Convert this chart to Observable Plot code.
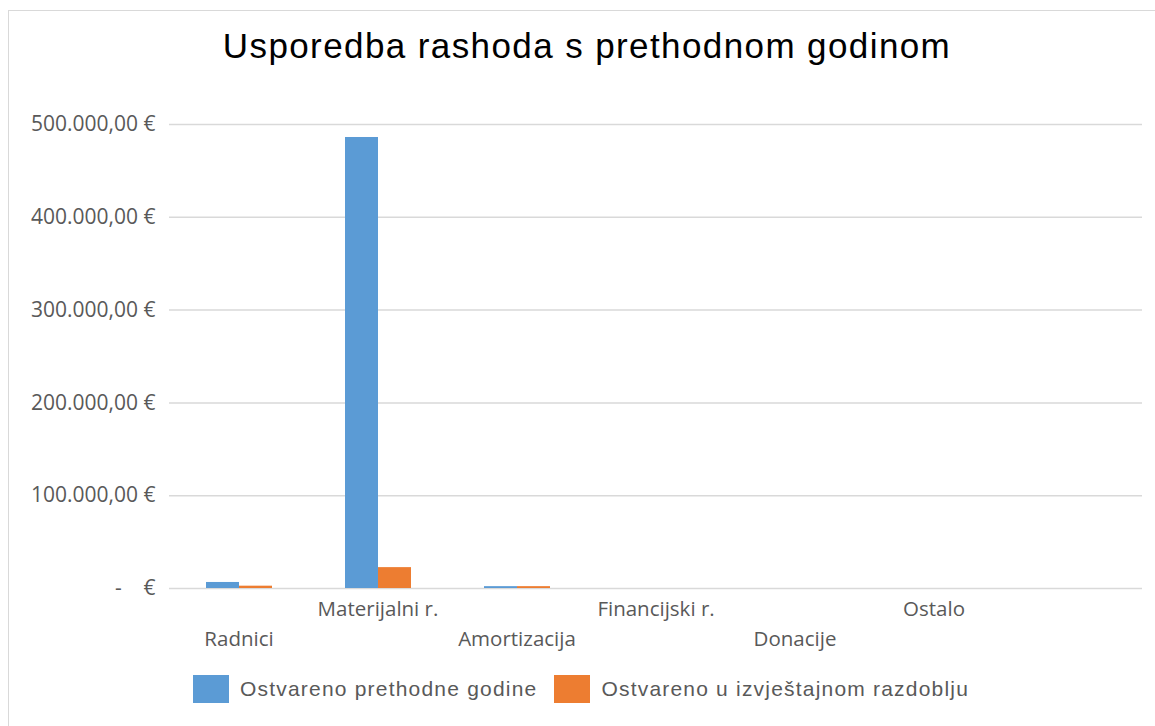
<!DOCTYPE html>
<html>
<head>
<meta charset="utf-8">
<script src="https://cdn.jsdelivr.net/npm/d3@7"></script>
<script src="https://cdn.jsdelivr.net/npm/@observablehq/plot@0.6"></script>
<style>
  html, body { margin: 0; padding: 0; background: #fff; }
  #wrap { position: relative; width: 1155px; height: 726px; overflow: hidden; }
  #frame { position: absolute; left: 8px; top: 10px; width: 1160px; height: 730px; border: 1px solid #d9d9d9; box-sizing: border-box; }
  #title { position: absolute; left: 0; top: 26px; width: 1174px; text-align: center; font-family: "Liberation Sans", Arial, sans-serif; font-size: 35px; letter-spacing: 1.4px; color: #000; line-height: 40px; }
  #chart { position: absolute; left: 0; top: 100px; }
  #legend { position: absolute; left: 193px; top: 675px; display: flex; align-items: center; font-family: "Liberation Sans", Arial, sans-serif; font-size: 21px; letter-spacing: 1.2px; color: #595959; }
  .sw { width: 36px; height: 28px; display: inline-block; margin-right: 11px; }
  .item { display: flex; align-items: center; margin-right: 17px; }
</style>
</head>
<body>
<div id="wrap">
  <div id="frame"></div>
  <div id="title"></div>
  <div id="chart"></div>
  <div id="legend"></div>
</div>
<script>
const titleText = "Usporedba rashoda s prethodnom godinom";
const categories = ["Radnici", "Materijalni r.", "Amortizacija", "Financijski r.", "Donacije", "Ostalo", ""];
const seriesNames = ["Ostvareno prethodne godine", "Ostvareno u izvještajnom razdoblju"];
const seriesColors = ["#5b9bd5", "#ed7d31"];
const prevYear = [6500, 486000, 2000, 0, 0, 0, 0];
const currentPeriod = [2500, 22500, 2000, 0, 0, 0, 0];
const yTicks = [0, 100000, 200000, 300000, 400000, 500000];

const data = [];
categories.forEach((c, i) => {
  data.push({category: c, series: seriesNames[0], value: prevYear[i]});
  data.push({category: c, series: seriesNames[1], value: currentPeriod[i]});
});

const locale = d3.formatLocale({decimal: ",", thousands: ".", grouping: [3], currency: ["", ""]});
const fmt = locale.format(",.2f");
const yFormat = d => d === 0 ? "-\u00a0\u00a0\u00a0\u00a0€" : fmt(d) + " €";

document.getElementById("title").textContent = titleText;

const upper = categories.filter((c, i) => i % 2 === 1);
const lower = categories.filter((c, i) => i % 2 === 0);

const chart = Plot.plot({
  width: 1155,
  height: 560,
  marginLeft: 167,
  marginRight: 12,
  marginTop: 24,
  marginBottom: 72,
  style: {fontFamily: "'Open Sans', sans-serif", fontSize: "21px", color: "#595959", background: "transparent"},
  fx: {domain: categories, padding: 0, label: null},
  x: {domain: seriesNames, paddingInner: 0, paddingOuter: 1.1, axis: null},
  y: {domain: [0, 500000], label: null},
  color: {domain: seriesNames, range: seriesColors},
  marks: [
    Plot.gridY(yTicks, {stroke: "#d9d9d9", strokeOpacity: 1, strokeWidth: 1.5}),
    Plot.barY(data, {fx: "category", x: "series", y: "value", fill: "series"}),
    Plot.axisY(yTicks, {tickSize: 0, tickPadding: 14, tickFormat: yFormat, label: null, fill: "#595959", fontSize: 21}),
    Plot.axisFx({anchor: "bottom", tickSize: 0, tickPadding: 13, label: null, fill: "#595959", fontSize: 20.5,
      tickFormat: d => upper.includes(d) ? d : ""}),
    Plot.axisFx({anchor: "bottom", tickSize: 0, tickPadding: 43, label: null, fill: "#595959", fontSize: 20.5,
      tickFormat: d => lower.includes(d) ? d : ""})
  ]
});
document.getElementById("chart").appendChild(chart);

const legend = document.getElementById("legend");
seriesNames.forEach((s, i) => {
  const item = document.createElement("div");
  item.className = "item";
  const sw = document.createElement("span");
  sw.className = "sw";
  sw.style.background = seriesColors[i];
  const t = document.createElement("span");
  t.textContent = s;
  item.appendChild(sw);
  item.appendChild(t);
  legend.appendChild(item);
});
</script>
</body>
</html>
